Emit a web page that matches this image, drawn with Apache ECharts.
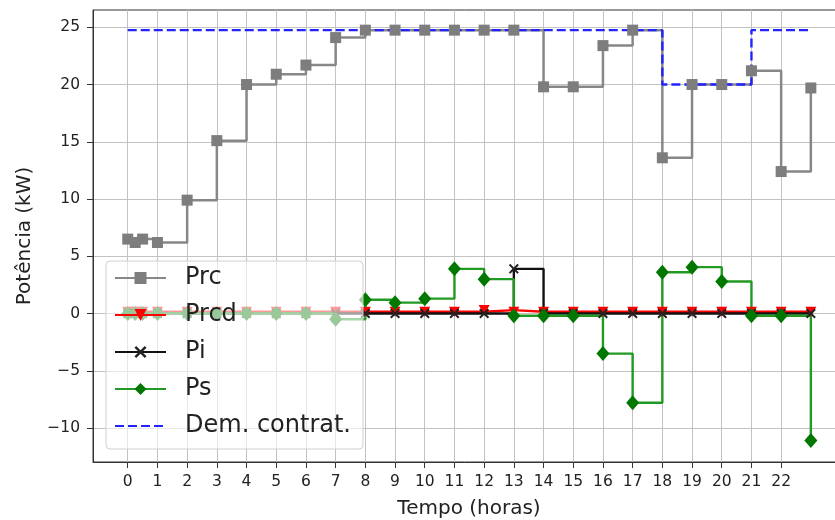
<!DOCTYPE html>
<html>
<head>
<meta charset="utf-8">
<title>Potência</title>
<script src="https://cdn.jsdelivr.net/npm/echarts@6/dist/echarts.min.js"></script>
<style>
  html, body { margin: 0; padding: 0; background: #fff; }
  .box { width: 835px; height: 520px; }
</style>
</head>
<body>
<div id="box" class="box"></div>
<script>
/* dados (tempo em horas, potência em kW) */
const tempo = [0, 0.25, 0.5, 1, 2, 3, 4, 5, 6, 7, 8, 9, 10, 11, 12, 13, 14, 15, 16, 17, 18, 19, 20, 21, 22, 23]
const prc = [6.5, 6.2, 6.5, 6.2, 9.9, 15.1, 20.0, 20.9, 21.7, 24.1, 24.75, 24.75, 24.75, 24.75, 24.75, 24.75, 19.8, 19.8, 23.4, 24.75, 13.6, 20.0, 20.0, 21.2, 12.4, 19.7]
const prcd = [0.15, 0.15, 0.15, 0.15, 0.15, 0.15, 0.15, 0.15, 0.15, 0.15, 0.15, 0.15, 0.15, 0.15, 0.3, 0.15, 0.15, 0.15, 0.15, 0.15, 0.15, 0.15, 0.15, 0.15, 0.15, 0.15]
const pi = [0, 0, 0, 0, 0, 0, 0, 0, 0, 0, 0, 0, 0, 0, 0, 3.9, 0, 0, 0, 0, 0, 0, 0, 0, 0, 0]
const ps = [0, 0, 0, 0, 0, 0, 0, 0, 0, -0.5, 1.2, 0.95, 1.3, 3.9, 3.0, -0.2, -0.2, -0.2, -3.5, -7.8, 3.6, 4.05, 2.8, -0.2, -0.2, -11.1]
const demContrat = [24.75, 24.75, 24.75, 24.75, 24.75, 24.75, 24.75, 24.75, 24.75, 24.75, 24.75, 24.75, 24.75, 24.75, 24.75, 24.75, 24.75, 24.75, 24.75, 24.75, 20.0, 20.0, 20.0, 24.75, 24.75, 24.75]

const xTicks = [0, 1, 2, 3, 4, 5, 6, 7, 8, 9, 10, 11, 12, 13, 14, 15, 16, 17, 18, 19, 20, 21, 22]
const yTicks = [-10, -5, 0, 5, 10, 15, 20, 25]

const fonte = 'DejaVu Sans'
// marcador "x" do matplotlib
const simboloX = 'path://M0,1.4 L1.4,0 L5,3.6 L8.6,0 L10,1.4 L6.4,5 L10,8.6 L8.6,10 L5,6.4 L1.4,10 L0,8.6 L3.6,5 Z'
const trianguloBaixo = 'path://M0,0 L10,0 L5,9 Z'

function pares (valores) {
  return tempo.map((t, i) => [t, valores[i]])
}

const options = {
  animation: false,
  backgroundColor: '#fff',
  grid: {
    left: 93,
    top: 10,
    right: -10,
    bottom: 58,
    containLabel: false,
    outerBoundsMode: 'none',
    show: true,
    borderColor: '#333',
    borderWidth: 1,
    backgroundColor: 'transparent'
  },
  legend: {
    orient: 'vertical',
    left: 106,
    top: 261,
    itemWidth: 51,
    itemHeight: 15,
    itemGap: 13,
    padding: [5, 12, 11, 8],
    backgroundColor: 'rgba(255,255,255,0.6)',
    borderColor: '#d0d0d0',
    borderWidth: 1,
    borderRadius: 4,
    textStyle: { fontFamily: fonte, fontSize: 24, color: '#222', padding: [0, 0, 0, 14] },
    data: [
      'Prc', 'Prcd', 'Pi', 'Ps',
      { name: 'Dem. contrat.', itemStyle: { opacity: 0 } }
    ]
  },
  xAxis: {
    type: 'value',
    min: -1.17,
    max: 24.15,
    name: 'Tempo (horas)',
    nameLocation: 'middle',
    nameGap: 37,
    nameTextStyle: { fontFamily: fonte, fontSize: 20, color: '#222' },
    axisLine: { show: true, onZero: false, lineStyle: { color: '#333', width: 1 } },
    axisTick: { show: true, length: 6, customValues: xTicks, lineStyle: { color: '#333' } },
    axisLabel: { customValues: xTicks, margin: 12, fontFamily: fonte, fontSize: 15.5, color: '#222' },
    splitLine: { show: true, lineStyle: { color: '#c2c2c2', width: 1 } }
  },
  yAxis: {
    type: 'value',
    min: -12.97,
    max: 26.51,
    name: 'Potência (kW)',
    nameLocation: 'middle',
    nameGap: 58,
    nameTextStyle: { fontFamily: fonte, fontSize: 20, color: '#222' },
    axisLine: { show: true, onZero: false, lineStyle: { color: '#333', width: 1 } },
    axisTick: { show: true, length: 6, customValues: yTicks, lineStyle: { color: '#333' } },
    axisLabel: {
      customValues: yTicks,
      margin: 13,
      fontFamily: fonte,
      fontSize: 15.5,
      color: '#222',
      formatter: v => String(v).replace('-', '\u2212')
    },
    splitLine: { show: true, lineStyle: { color: '#c2c2c2', width: 1 } }
  },
  series: [
    {
      name: 'Prc',
      type: 'line',
      step: 'end',
      data: pares(prc),
      symbol: 'rect',
      symbolSize: 11,
      lineStyle: { color: '#878787', width: 2.5 },
      itemStyle: { color: '#7d7d7d' }
    },
    {
      name: 'Prcd',
      type: 'line',
      step: 'end',
      data: pares(prcd),
      symbol: trianguloBaixo,
      symbolSize: [11, 10],
      lineStyle: { color: '#ff0000', width: 2.4 },
      itemStyle: { color: '#ff0000' }
    },
    {
      name: 'Pi',
      type: 'line',
      step: 'end',
      data: pares(pi),
      symbol: simboloX,
      symbolSize: 10,
      lineStyle: { color: '#111', width: 2.4 },
      itemStyle: { color: '#222' }
    },
    {
      name: 'Ps',
      type: 'line',
      step: 'end',
      data: pares(ps),
      symbol: 'diamond',
      symbolSize: [13, 15],
      lineStyle: { color: '#229922', width: 2.4 },
      itemStyle: { color: '#007800' }
    },
    {
      name: 'Dem. contrat.',
      type: 'line',
      step: 'end',
      data: pares(demContrat),
      symbol: 'none',
      lineStyle: { color: '#2323ff', width: 2.4, type: [9, 4] },
      itemStyle: { color: '#2323ff' }
    }
  ]
}

const myEcharts = echarts.init(document.getElementById('box'))
myEcharts.setOption(options)
</script>
</body>
</html>
